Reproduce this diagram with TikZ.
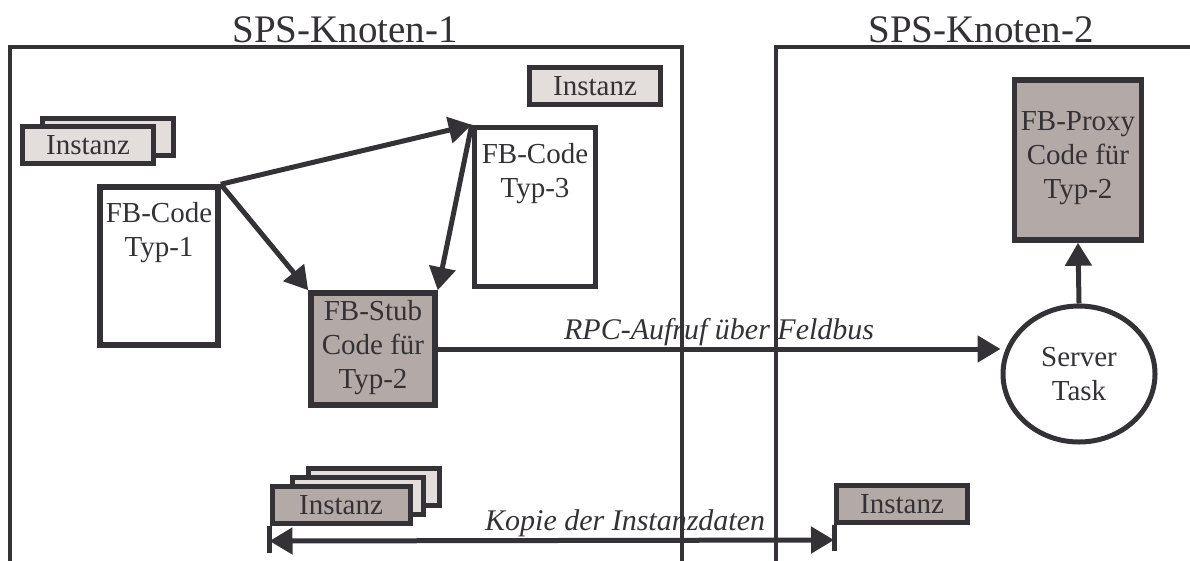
\documentclass[tikz,border=0pt]{standalone}
\usepackage{fontspec}
\setmainfont{Liberation Serif}
\usetikzlibrary{arrows.meta,shapes.geometric}
\definecolor{linie}{HTML}{343236}
\definecolor{braun}{HTML}{B3A9A6}
\definecolor{hell}{HTML}{E3DEDC}
\begin{document}
\begin{tikzpicture}[x=1pt,y=-1pt,>={Triangle[length=23pt,width=26pt]},
    rahmen/.style={draw=linie,line width=3.5pt},
    kasten/.style={draw=linie,line width=5.5pt,fill=white,inner sep=0pt},
    kastenb/.style={kasten,fill=braun},
    inst/.style={draw=linie,line width=5pt,fill=hell,minimum width=131pt,minimum height=37pt,
        inner sep=0pt,text=linie,font=\fontsize{29}{34}\selectfont},
    instb/.style={inst,fill=braun},
    txt/.style={align=center,inner sep=0pt,text=linie,font=\fontsize{29}{34}\selectfont},
    titel/.style={text=linie,font=\fontsize{39}{44}\selectfont},
    lbl/.style={text=linie,inner sep=1pt,font=\fontsize{30}{34}\selectfont\itshape},
    pfeil/.style={draw=linie,line width=5pt,->}]
    \useasboundingbox (0,0) rectangle (1190,560);
    \begin{scope}
        \node[titel] (k1) at (345,30) {SPS-Knoten-1};
        \draw[rahmen] (10,565) |- (682,47) -- (682,565);
        \node[inst] (inst1b) at (108,137) {};
        \node[inst] (inst1) at (88,145) {Instanz};
        \node[inst] (inst2) at (595,86) {Instanz};
        \node[kasten,minimum width=118pt,minimum height=158pt] (typ1) at (159,266) {};
        \node[txt,anchor=north] (typ1t) at ([yshift=-18pt]typ1.north) {FB-Code\\Typ-1};
        \node[kasten,minimum width=121pt,minimum height=159pt] (typ3) at (535,207) {};
        \node[txt,anchor=north] (typ3t) at ([yshift=-18pt]typ3.north) {FB-Code\\Typ-3};
        \node[kastenb,minimum width=124pt,minimum height=112pt] (stub) at (373,349) {};
        \node[txt,anchor=north] (stubt) at ([yshift=-10pt]stub.north) {FB-Stub\\Code für\\Typ-2};
        \draw[pfeil] (typ1.north east) -- (typ3.north west);
        \draw[pfeil] (typ1.north east) -- (stub.north west);
        \draw[pfeil] (typ3.north west) -- (stub.north east);
        \node[inst] (inst3c) at (374,487) {};
        \node[inst] (inst3b) at (358,496) {};
        \node[instb,minimum width=138pt] (inst3) at (341,505) {Instanz\hspace{22pt}};
    \end{scope}
    \begin{scope}
        \node[titel] (k2) at (981,30) {SPS-Knoten-2};
        \draw[rahmen] (776,565) |- (1195,47);
        \node[kastenb,minimum width=127pt,minimum height=160pt] (proxy) at (1078,160) {};
        \node[txt,anchor=north] (proxyt) at ([yshift=-34pt]proxy.north) {FB-Proxy\\Code für\\Typ-2};
        \node[ellipse,draw=linie,line width=5pt,fill=white,minimum width=152pt,minimum height=136pt,
            txt] (server) at (1079,374) {Server\\Task};
        \draw[pfeil] (server.north) -- (proxy.south);
        \node[instb] (inst4) at (902,504) {Instanz};
    \end{scope}
    \draw[pfeil] (stub.east) -- (stub.east -| server.west)
        node[lbl,midway,above] (rpc) {RPC-Aufruf über Feldbus};
    \draw[draw=linie,line width=5pt] (inst3.south west) -- ++(0,27);
    \draw[draw=linie,line width=5pt] (inst4.south west) -- ++(0,26);
    \draw[pfeil,<->] ([yshift=-15pt]inst3.south west) -- ([yshift=-15pt]inst4.south west)
        node[lbl,pos=0.63,above] (kopie) {Kopie der Instanzdaten};
\end{tikzpicture}
\end{document}
